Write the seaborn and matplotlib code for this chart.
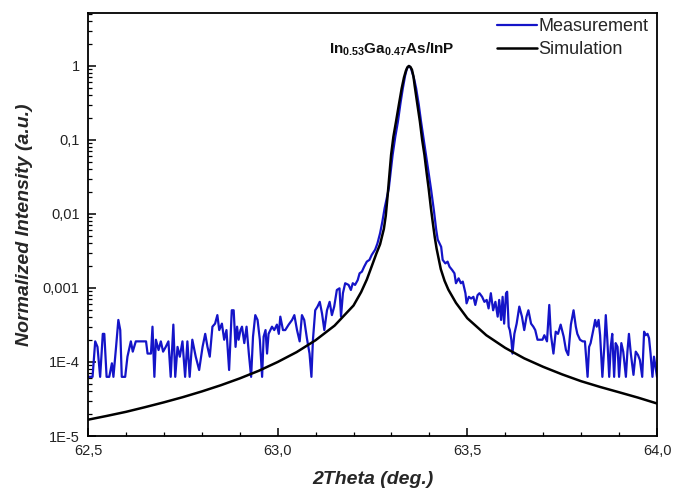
import matplotlib
matplotlib.use("Agg")
import matplotlib.pyplot as plt
import matplotlib.ticker as mticker
import numpy as np
import pandas as pd
import seaborn as sns

# ---- data ----
meas_x = [
    62.500, 62.512, 62.519, 62.525, 62.532, 62.539, 62.543, 62.549, 62.556, 62.563,
    62.567, 62.574, 62.580, 62.585, 62.589, 62.598, 62.604, 62.613, 62.618, 62.626,
    62.653, 62.657, 62.666, 62.670, 62.675, 62.679, 62.686, 62.692, 62.698, 62.705,
    62.712, 62.718, 62.725, 62.730, 62.736, 62.742, 62.749, 62.756, 62.762, 62.768,
    62.775, 62.784, 62.793, 62.802, 62.809, 62.815, 62.821, 62.828, 62.835, 62.841,
    62.846, 62.853, 62.859, 62.865, 62.872, 62.879,
    62.884, 62.889, 62.893, 62.897, 62.902, 62.906, 62.912, 62.918, 62.924, 62.930,
    62.935, 62.941, 62.947, 62.953, 62.959, 62.963, 62.968, 62.972, 62.976, 62.985,
    62.991, 62.998, 63.003, 63.007, 63.014, 63.020, 63.029, 63.038, 63.044, 63.051,
    63.058, 63.064, 63.070, 63.077, 63.084, 63.089, 63.093, 63.099, 63.105, 63.111,
    63.117, 63.123, 63.130, 63.137, 63.143, 63.149, 63.156, 63.163, 63.167, 63.172,
    63.178, 63.187, 63.193, 63.198, 63.204, 63.211, 63.216, 63.222, 63.228, 63.235,
    63.242, 63.248, 63.257, 63.263, 63.270,
    63.276, 63.282, 63.293, 63.303, 63.310, 63.317, 63.324, 63.330, 63.336, 63.341,
    63.346, 63.351, 63.356, 63.360, 63.365, 63.372, 63.378, 63.385, 63.391, 63.404,
    63.412,
    63.418, 63.422, 63.431, 63.435, 63.442, 63.448, 63.453, 63.460, 63.466, 63.470,
    63.477, 63.483, 63.488, 63.495, 63.498, 63.504, 63.510, 63.516, 63.521, 63.527,
    63.532, 63.539, 63.545, 63.551, 63.556, 63.562, 63.568, 63.574, 63.580, 63.584,
    63.589, 63.593, 63.597, 63.602, 63.605, 63.609, 63.612, 63.616, 63.619, 63.624,
    63.630, 63.637, 63.644, 63.650, 63.656, 63.661, 63.668, 63.674, 63.679, 63.685,
    63.698,
    63.703, 63.710, 63.716, 63.720, 63.727, 63.733, 63.739, 63.746, 63.754, 63.760,
    63.766, 63.773, 63.780, 63.786, 63.790, 63.797, 63.804, 63.810, 63.817, 63.821,
    63.825, 63.832, 63.837, 63.841, 63.846, 63.850, 63.856, 63.861, 63.865, 63.869,
    63.874, 63.878, 63.882, 63.887, 63.891, 63.896, 63.900, 63.906, 63.911, 63.918,
    63.922, 63.926, 63.931, 63.938, 63.944, 63.950, 63.955, 63.961, 63.966, 63.970,
    63.975, 63.979, 63.983, 63.988, 63.992, 64.000,
]
meas_y = [
    6.3e-5, 6.3e-5, 1.9e-4, 1.6e-4, 6.3e-5, 2.4e-4, 2.4e-4, 6.3e-5, 6.3e-5, 9.6e-5,
    6.3e-5, 1.6e-4, 3.7e-4, 2.7e-4, 6.3e-5, 6.3e-5, 1.18e-4, 1.9e-4, 1.38e-4, 1.9e-4,
    1.9e-4, 1.3e-4, 1.3e-4, 3.0e-4, 6.3e-5, 2.0e-4, 1.45e-4, 1.9e-4, 1.38e-4, 1.6e-4,
    1.9e-4, 6.3e-5, 3.2e-4, 6.3e-5, 1.6e-4, 1.18e-4, 1.9e-4, 6.3e-5, 1.9e-4, 6.3e-5,
    2.0e-4, 1.18e-4, 7.8e-5, 1.6e-4, 2.4e-4, 1.6e-4, 1.18e-4, 3.0e-4, 3.3e-4, 4.3e-4,
    2.7e-4, 3.3e-4, 2.0e-4, 2.7e-4, 7.8e-5, 5.0e-4,
    5.0e-4, 1.6e-4, 3.0e-4, 2.0e-4, 2.7e-4, 3.0e-4, 1.8e-4, 3.0e-4, 1.3e-4, 6.3e-5,
    2.2e-4, 4.3e-4, 3.7e-4, 2.0e-4, 6.3e-5, 2.2e-4, 2.7e-4, 1.3e-4, 2.4e-4, 3.0e-4,
    2.7e-4, 3.2e-4, 2.4e-4, 4.1e-4, 2.7e-4, 2.7e-4, 3.2e-4, 3.7e-4, 4.3e-4, 2.7e-4,
    1.9e-4, 4.3e-4, 3.7e-4, 2.1e-4, 1.3e-4, 6.3e-5, 2.0e-4, 5.0e-4, 5.6e-4, 6.5e-4,
    4.5e-4, 2.7e-4, 5.0e-4, 6.5e-4, 4.3e-4, 5.6e-4, 9.4e-4, 9.9e-4, 4.1e-4, 8.5e-4,
    1.16e-3, 1.10e-3, 9.4e-4, 1.16e-3, 1.10e-3, 1.28e-3, 1.58e-3, 1.66e-3, 1.94e-3, 2.27e-3,
    2.4e-3, 2.8e-3, 3.3e-3, 4.0e-3, 5.5e-3,
    7.9e-3, 0.012, 0.0222, 0.0627, 0.11, 0.177, 0.32, 0.50, 0.74, 0.93,
    1.0, 0.94, 0.78, 0.66, 0.50, 0.30, 0.177, 0.10, 0.0627, 0.0222,
    0.011,
    6.1e-3, 4.5e-3, 3.6e-3, 2.4e-3, 2.15e-3, 2.27e-3, 1.94e-3, 1.75e-3, 1.58e-3, 1.16e-3,
    1.35e-3, 1.16e-3, 1.22e-3, 8.5e-4, 6.2e-4, 7.6e-4, 7.2e-4, 7.6e-4, 5.9e-4, 8.0e-4,
    8.5e-4, 7.6e-4, 6.5e-4, 6.9e-4, 5.3e-4, 8.5e-4, 5.0e-4, 6.5e-4, 4.1e-4, 6.9e-4,
    3.7e-4, 7.6e-4, 3.3e-4, 8.5e-4, 8.9e-4, 3.0e-4, 2.7e-4, 2.0e-4, 1.3e-4, 2.4e-4,
    3.3e-4, 5.6e-4, 4.1e-4, 2.7e-4, 4.1e-4, 5.0e-4, 3.3e-4, 3.0e-4, 2.7e-4, 2.0e-4,
    2.0e-4,
    2.3e-4, 1.9e-4, 5.9e-4, 2.4e-4, 1.3e-4, 2.57e-4, 2.4e-4, 3.2e-4, 2.2e-4, 1.45e-4,
    1.24e-4, 3.2e-4, 5.0e-4, 3.0e-4, 2.4e-4, 2.0e-4, 1.9e-4, 1.9e-4, 6.3e-5, 1.6e-4,
    1.8e-4, 2.7e-4, 3.7e-4, 3.0e-4, 3.7e-4, 2.3e-4, 6.3e-5, 1.6e-4, 4.3e-4, 2.0e-4,
    6.3e-5, 1.6e-4, 2.4e-4, 6.3e-5, 1.8e-4, 1.6e-4, 6.3e-5, 1.8e-4, 1.38e-4, 6.3e-5,
    1.38e-4, 2.4e-4, 1.3e-4, 6.7e-5, 1.38e-4, 1.24e-4, 1.06e-4, 6.3e-5, 2.57e-4, 2.3e-4,
    2.4e-4, 2.1e-4, 1.3e-4, 6.3e-5, 1.18e-4, 6.3e-5,
]

sim_x = [
    62.50, 62.55, 62.60, 62.65, 62.70, 62.75, 62.80, 62.85, 62.90, 62.95,
    63.00, 63.05, 63.10, 63.15, 63.20, 63.22, 63.235, 63.25, 63.26, 63.27,
    63.28, 63.285, 63.29, 63.295, 63.299, 63.305, 63.312, 63.320, 63.327, 63.333,
    63.338, 63.342, 63.346, 63.350, 63.354, 63.358, 63.361, 63.368, 63.375, 63.381,
    63.387, 63.393, 63.398, 63.404, 63.409, 63.414, 63.419, 63.43, 63.44, 63.45,
    63.47, 63.50, 63.55, 63.60, 63.65, 63.70, 63.75, 63.80, 63.85, 63.90,
    63.95, 64.00,
]
sim_y = [
    1.66e-5, 1.87e-5, 2.12e-5, 2.45e-5, 2.85e-5, 3.35e-5, 4.0e-5, 4.85e-5, 6.0e-5, 7.6e-5,
    1.0e-4, 1.36e-4, 1.97e-4, 3.1e-4, 5.8e-4, 8.8e-4, 1.3e-3, 2.1e-3, 2.9e-3, 3.9e-3,
    6.3e-3, 9.5e-3, 0.018, 0.036, 0.0627, 0.11, 0.177, 0.31, 0.50, 0.70,
    0.86, 0.96, 1.0, 0.97, 0.89, 0.72, 0.55, 0.31, 0.177, 0.10,
    0.0627, 0.035, 0.0222, 0.012, 7.6e-3, 4.9e-3, 3.4e-3, 1.8e-3, 1.25e-3, 9.5e-4,
    6.3e-4, 3.9e-4, 2.3e-4, 1.55e-4, 1.12e-4, 8.6e-5, 6.8e-5, 5.5e-5, 4.6e-5, 3.9e-5,
    3.3e-5, 2.75e-5,
]

x_ticks = [62.5, 63.0, 63.5, 64.0]
x_tick_labels = ["62,5", "63,0", "63,5", "64,0"]
y_ticks = [1e-5, 1e-4, 1e-3, 1e-2, 1e-1, 1]
y_tick_labels = ["1E-5", "1E-4", "0,001", "0,01", "0,1", "1"]

# ---- plot ----
sns.set_theme(style="ticks")
plt.rcParams["font.family"] = ["Liberation Sans", "DejaVu Sans"]
plt.rcParams["mathtext.fontset"] = "custom"
plt.rcParams["mathtext.rm"] = "Liberation Sans"
plt.rcParams["mathtext.bf"] = "Liberation Sans:bold"
plt.rcParams["mathtext.it"] = "Liberation Sans:italic"

fig = plt.figure(figsize=(6.73, 4.91), dpi=100)
ax = fig.add_axes([88 / 673, 55 / 491, (657 - 88) / 673, (436 - 13) / 491])

df_meas = pd.DataFrame({"x": meas_x, "y": meas_y})
df_sim = pd.DataFrame({"x": sim_x, "y": sim_y})

sns.lineplot(data=df_meas, x="x", y="y", ax=ax, color="#1414c8", lw=1.6,
             estimator=None, label="Measurement")
sns.lineplot(data=df_sim, x="x", y="y", ax=ax, color="black", lw=1.8,
             estimator=None, label="Simulation")

ax.set_yscale("log")
ax.set_xlim(62.5, 64.0)
ax.set_ylim(1e-5, 10 ** 0.716)

ax.set_xticks(x_ticks)
ax.set_xticklabels(x_tick_labels)
ax.xaxis.set_minor_locator(mticker.MultipleLocator(0.1))
ax.set_yticks(y_ticks)
ax.set_yticklabels(y_tick_labels)
ax.yaxis.set_minor_locator(mticker.LogLocator(base=10, subs=np.arange(2, 10)))
ax.yaxis.set_minor_formatter(mticker.NullFormatter())

ax.tick_params(which="major", direction="in", length=6, width=1.1,
               labelsize=10.5, color="black", labelcolor="#222222", pad=6)
ax.tick_params(which="minor", direction="in", length=3, width=0.9, color="black")
for s in ax.spines.values():
    s.set_linewidth(1.3)
    s.set_color("black")

ax.set_xlabel("2Theta (deg.)", fontsize=14, fontweight="bold", style="italic", labelpad=9)
ax.set_ylabel("Normalized Intensity (a.u.)", fontsize=14, fontweight="bold", style="italic", labelpad=7)

ax.text(63.3, 1.28, r"$\mathbf{In_{0.53}Ga_{0.47}As/InP}$", fontsize=11, ha="center",
        va="bottom", color="#111111")

leg = ax.legend(loc="upper right", frameon=False, fontsize=13, handlelength=2.2,
                handletextpad=0.1, borderaxespad=0.0, labelspacing=0.35,
                bbox_to_anchor=(0.998, 1.005))

fig.savefig("out.png", dpi=100)
